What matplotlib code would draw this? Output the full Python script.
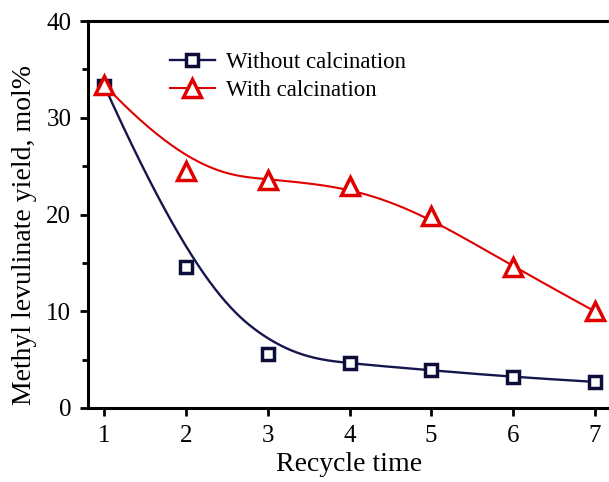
import numpy as np
import matplotlib
matplotlib.use("Agg")
import matplotlib.pyplot as plt
from matplotlib.ticker import MultipleLocator

# ---- data ----
recycle = [1, 2, 3, 4, 5, 6, 7]
without_calc = [33.3, 14.6, 5.6, 4.6, 3.9, 3.2, 2.7]
with_calc = [33.4, 24.5, 23.6, 22.9, 19.8, 14.6, 10.0]
labels = ["Without calcination", "With calcination"]


def bspline(xs, ys, k=3, n=400):
    """Clamped B-spline using data points as control points (Origin style)."""
    P = np.column_stack([xs, ys]).astype(float)
    m = len(P)
    t = np.concatenate([np.zeros(k), np.linspace(0, 1, m - k + 1), np.ones(k)])
    u = np.linspace(0, 1, n)
    u[-1] = 1 - 1e-12

    def N(i, p, uu):
        if p == 0:
            return ((t[i] <= uu) & (uu < t[i + 1])).astype(float)
        a = np.zeros_like(uu)
        b = np.zeros_like(uu)
        d1 = t[i + p] - t[i]
        d2 = t[i + p + 1] - t[i + 1]
        if d1 > 0:
            a = (uu - t[i]) / d1 * N(i, p - 1, uu)
        if d2 > 0:
            b = (t[i + p + 1] - uu) / d2 * N(i + 1, p - 1, uu)
        return a + b

    B = np.array([N(i, k, u) for i in range(m)])
    C = B.T @ P
    return C[:, 0], C[:, 1]


plt.rcParams["font.family"] = ["Liberation Serif", "DejaVu Serif"]

fig = plt.figure(figsize=(6.09, 4.82), dpi=100)
ax = fig.add_axes([88 / 609, 74 / 482, 523 / 609, 387 / 482])

blue = "#16164f"
sq_edge = "#0d0d3a"
red = "#e00000"

bx, by = bspline(recycle, without_calc)
rx, ry = bspline(recycle, with_calc)

ax.plot(bx, by, color=blue, lw=1.7, zorder=2)
ax.plot(rx, ry, color=red, lw=1.5, zorder=2)
ax.plot(recycle, without_calc, ls="none", marker="s", ms=8.5, mfc="white",
        mec=sq_edge, mew=2.5, zorder=3)
ax.plot(recycle, with_calc, ls="none", marker="^", ms=13, mfc="white",
        mec=red, mew=2.5, zorder=4)

# legend handles
h1, = ax.plot([], [], color=blue, lw=1.7, marker="s", ms=8.5, mfc="white",
              mec=sq_edge, mew=2.5)
h2, = ax.plot([], [], color=red, lw=1.5, marker="^", ms=13, mfc="white",
              mec=red, mew=2.5)
ax.legend([h1, h2], labels, loc="upper left", frameon=False,
          bbox_to_anchor=(170 / 609, 1 - 52 / 482), bbox_transform=fig.transFigure,
          fontsize=16.5, handlelength=1.95, handletextpad=0.5, labelspacing=0.32,
          borderpad=0, borderaxespad=0)

ax.set_xlim(0.8, 7.2)
ax.set_ylim(0, 40)
ax.set_xticks(recycle)
ax.set_yticks([0, 10, 20, 30, 40])
ax.yaxis.set_minor_locator(MultipleLocator(5))

for s in ["left", "bottom", "top", "right"]:
    ax.spines[s].set_linewidth(2.2)

ax.tick_params(axis="both", which="major", direction="out", length=6, width=2,
               labelsize=18, pad=6)
ax.tick_params(axis="y", which="minor", direction="out", length=4, width=2)
ax.tick_params(top=False, right=False)

ax.set_xlabel("Recycle time", fontsize=20)
ax.xaxis.set_label_coords(0.5, -44 / 387)
ax.set_ylabel("Methyl levulinate yield, mol%", fontsize=20)
ax.yaxis.set_label_coords(-51 / 523, (408 - 235) / 387)

fig.savefig("out.png", dpi=100, facecolor="white")
